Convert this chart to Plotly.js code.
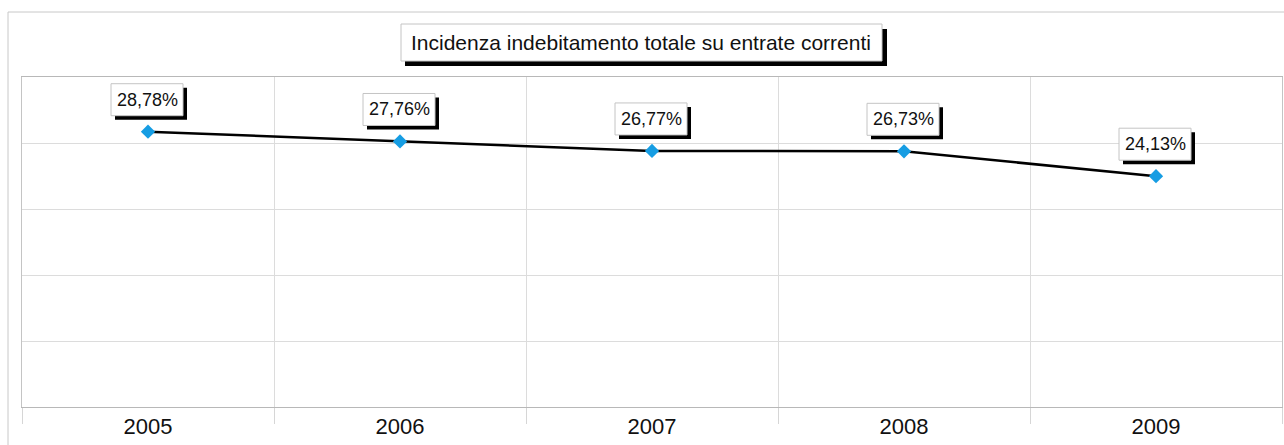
<!DOCTYPE html>
<html>
<head>
<meta charset="utf-8">
<script src="https://cdn.plot.ly/plotly-3.0.1.min.js"></script>
<style>html,body{margin:0;padding:0;background:#fff;}#chart{width:1284px;height:445px;}</style>
</head>
<body>
<div id="chart"></div>
<script>
// ---- data ----
const years = ['2005', '2006', '2007', '2008', '2009'];
const values = [28.78, 27.76, 26.77, 26.73, 24.13];
const chartTitle = 'Incidenza indebitamento totale su entrate correnti';

// ---- layout helpers ----
const W = 1284, H = 445;
const M = {l: 22, r: 2, t: 77, b: 38};
const PW = W - M.l - M.r, PH = H - M.t - M.b;
const px = x => (x - M.l) / PW;          // pixel -> paper x
const py = y => (H - M.b - y) / PH;      // pixel -> paper y

const labels = values.map(v => v.toFixed(2).replace('.', ',') + '%');
const FONT = 'Liberation Sans, Arial, sans-serif';

const trace = {
  type: 'scatter',
  mode: 'lines+markers',
  x: years,
  y: values,
  line: {color: '#000000', width: 2.5},
  marker: {symbol: 'diamond', size: 11, color: '#169de3'},
  hoverinfo: 'x+y'
};

const shapes = [
  // outer frame
  {type: 'rect', xref: 'paper', yref: 'paper', x0: px(8), x1: px(1300), y0: py(470), y1: py(12),
   line: {color: '#c8c8c8', width: 1}, fillcolor: 'rgba(0,0,0,0)', layer: 'below'},
  // title shadow
  {type: 'rect', xref: 'paper', yref: 'paper', x0: px(405), x1: px(887), y0: py(66), y1: py(29),
   line: {width: 0}, fillcolor: '#000000', layer: 'above'},
  // title box
  {type: 'rect', xref: 'paper', yref: 'paper', x0: px(401), x1: px(882), y0: py(61), y1: py(24),
   line: {color: '#c4c4c4', width: 1}, fillcolor: '#ffffff', layer: 'above'}
];

const annotations = [];
years.forEach((yr, i) => {
  // label shadow (pixel-sized, anchored to the data point)
  shapes.push({
    type: 'rect', xref: 'x', yref: 'y', layer: 'above',
    xsizemode: 'pixel', ysizemode: 'pixel', xanchor: i, yanchor: values[i],
    x0: -33, x1: 39, y0: 12, y1: 44,
    line: {width: 0}, fillcolor: '#000000'
  });
  // label box
  shapes.push({
    type: 'rect', xref: 'x', yref: 'y', layer: 'above',
    xsizemode: 'pixel', ysizemode: 'pixel', xanchor: i, yanchor: values[i],
    x0: -37, x1: 35, y0: 16, y1: 48,
    line: {color: '#c4c4c4', width: 1}, fillcolor: '#ffffff'
  });
  annotations.push({
    x: i, y: values[i], xref: 'x', yref: 'y', showarrow: false,
    text: labels[i], font: {family: FONT, size: 18, color: '#111'},
    xshift: -1, yshift: 32, xanchor: 'center', yanchor: 'middle'
  });
});

const layout = {
  width: W, height: H,
  margin: M,
  paper_bgcolor: '#ffffff',
  plot_bgcolor: '#ffffff',
  showlegend: false,
  title: {
    text: chartTitle,
    font: {family: FONT, size: 21, color: '#111'},
    x: 641 / W, xref: 'container', xanchor: 'center',
    y: 1 - 42.5 / H, yref: 'container', yanchor: 'middle'
  },
  xaxis: {
    type: 'category',
    range: [-0.5, 4.5],
    tickson: 'boundaries',
    ticks: 'outside', ticklen: 16, tickcolor: '#d6d6d6', tickwidth: 1,
    showgrid: true, gridcolor: '#dcdcdc', gridwidth: 1,
    showline: true, linecolor: '#b8b8b8', linewidth: 1, mirror: true,
    tickfont: {family: FONT, size: 22, color: '#111'},
    fixedrange: true
  },
  yaxis: {
    range: [0, 34.5],
    dtick: 6.9, tick0: 0,
    showticklabels: false,
    ticks: '',
    showgrid: true, gridcolor: '#dcdcdc', gridwidth: 1,
    zeroline: false,
    showline: true, linecolor: '#c4c4c4', linewidth: 1, mirror: true,
    fixedrange: true
  },
  annotations: annotations,
  shapes: shapes
};

Plotly.newPlot('chart', [trace], layout, {displayModeBar: false}).catch(e => {
  document.body.insertAdjacentHTML('beforeend', '<pre>' + e + '</pre>');
});
</script>
</body>
</html>
